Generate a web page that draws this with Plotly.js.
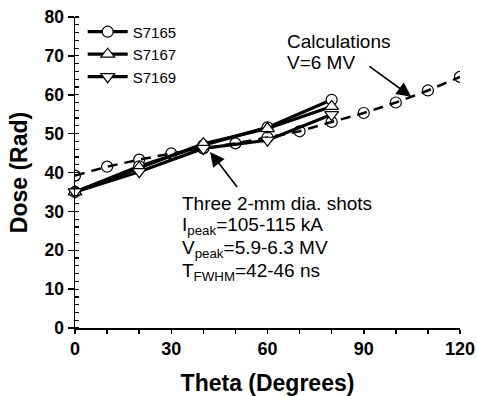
<!DOCTYPE html>
<html>
<head>
<meta charset="utf-8">
<script src="https://cdn.plot.ly/plotly-3.0.1.min.js"></script>
<style>html,body{margin:0;padding:0;background:#fff;}#chart{width:477px;height:396px;}</style>
</head>
<body>
<div id="chart"></div>
<script>
// Calculation (V = 6 MV)
const calcTheta = [0, 10, 20, 30, 40, 50, 60, 70, 80, 90, 100, 110, 120];
const calcDose  = [39.2, 41.5, 43.3, 44.9, 46.2, 47.5, 49.0, 50.6, 53.0, 55.3, 58.0, 61.1, 64.6];

// Measured shots
const shotTheta = [0, 20, 40, 60, 80];
const s7165 = [35.0, 41.6, 47.0, 51.6, 58.7];
const s7167 = [35.0, 41.3, 47.4, 51.3, 57.0];
const s7169 = [35.0, 40.2, 46.2, 48.3, 54.9];

const seriesNames = ['S7165', 'S7167', 'S7169'];
const xTitle = 'Theta (Degrees)';
const yTitle = 'Dose (Rad)';

const F = 'Arial, "Liberation Sans", Helvetica, sans-serif';

function shot(y, name, sym, size) {
  return {
    x: shotTheta, y: y, name: name, type: 'scatter', mode: 'lines+markers',
    line: {color: '#000', width: 3.2},
    marker: {symbol: sym, size: size, color: '#fff', line: {color: '#000', width: 1.2}},
    cliponaxis: false
  };
}

const data = [
  {
    x: calcTheta, y: calcDose, type: 'scatter', mode: 'lines+markers', showlegend: false,
    line: {color: '#000', width: 2.5, dash: '10px,7px'},
    marker: {symbol: 'circle-open', size: 11, color: '#000', line: {width: 1.2}},
    cliponaxis: true
  },
  shot(s7165, seriesNames[0], 'circle', 11),
  shot(s7167, seriesNames[1], 'triangle-up', 12),
  shot(s7169, seriesNames[2], 'triangle-down', 12)
];

const layout = {
  width: 477, height: 396,
  margin: {l: 75, r: 17, t: 17, b: 68},
  paper_bgcolor: '#fff', plot_bgcolor: '#fff',
  showlegend: true,
  legend: {
    x: 0.02, y: 1.005, xanchor: 'left', yanchor: 'top',
    bgcolor: 'rgba(0,0,0,0)', font: {family: F, size: 15, color: '#000'},
    itemwidth: 40, tracegroupgap: 0
  },
  xaxis: {
    range: [0, 120], dtick: 30, tick0: 0,
    ticks: 'outside', ticklen: 4, tickwidth: 1.5, tickcolor: '#000',
    minor: {dtick: 10, ticks: 'outside', ticklen: 4, tickwidth: 1.5, tickcolor: '#000'},
    showgrid: false, zeroline: false, showline: true, linecolor: '#000', linewidth: 1.5,
    tickfont: {family: F, size: 18, color: '#000', weight: 'bold'},
    title: {text: '<b>' + xTitle + '</b>', font: {family: F, size: 23, color: '#000'}, standoff: 18}
  },
  yaxis: {
    range: [0, 80], dtick: 10, tick0: 0,
    ticks: 'outside', ticklen: 6, tickwidth: 1.5, tickcolor: '#000',
    minor: {dtick: 2, ticks: 'inside', ticklen: 4, tickwidth: 1.2, tickcolor: '#000'},
    showgrid: false, zeroline: false, showline: true, linecolor: '#000', linewidth: 1.5,
    tickfont: {family: F, size: 17.5, color: '#000', weight: 'bold'},
    title: {text: '<b>' + yTitle + '</b>', font: {family: F, size: 23, color: '#000'}, standoff: 10}
  },
  xaxis2: {
    overlaying: 'x', side: 'top', range: [0, 120], dtick: 10, tick0: 0,
    ticks: 'inside', ticklen: 5, tickwidth: 1.5, tickcolor: '#000',
    showticklabels: false, showgrid: false, zeroline: false,
    showline: true, linecolor: '#000', linewidth: 1.5
  },
  yaxis2: {
    overlaying: 'y', side: 'right', range: [0, 80], dtick: 2.5, tick0: 0,
    ticks: 'inside', ticklen: 5, tickwidth: 1.5, tickcolor: '#000',
    showticklabels: false, showgrid: false, zeroline: false,
    showline: true, linecolor: '#000', linewidth: 1.5
  },
  annotations: [
    {x: 104.8, y: 59.5, ax: 91.3, ay: 67.6, axref: 'x', ayref: 'y', xref: 'x', yref: 'y',
     text: '', showarrow: true, arrowhead: 2, arrowsize: 1.8, arrowwidth: 1.6, arrowcolor: '#000'},
    {x: 42.1, y: 45.3, ax: 50.9, ay: 35.9, axref: 'x', ayref: 'y', xref: 'x', yref: 'y',
     text: '', showarrow: true, arrowhead: 2, arrowsize: 1.8, arrowwidth: 1.6, arrowcolor: '#000'},
    {x: 285, y: 42, text: 'Calculations', showarrow: false},
    {x: 285, y: 63, text: 'V=6 MV', showarrow: false},
    {x: 180, y: 203, text: 'Three 2-mm dia. shots', showarrow: false},
    {x: 180, y: 226, text: 'I<sub>peak</sub>=105-115 kA', showarrow: false},
    {x: 180, y: 249, text: 'V<sub>peak</sub>=5.9-6.3 MV', showarrow: false},
    {x: 180, y: 272, text: 'T<sub>FWHM</sub>=42-46 ns', showarrow: false}
  ]
};

// convert pixel-positioned text annotations to paper coords
const L = 75, T = 17, W = 477 - 75 - 17, H = 396 - 17 - 68;
layout.annotations.forEach(function (a, i) {
  if (i >= 2) {
    const px = a.x, py = a.y;
    a.xref = 'paper'; a.yref = 'paper';
    a.x = (px - L) / W; a.y = 1 - (py - T) / H;
    a.xanchor = 'left'; a.yanchor = 'middle';
    a.font = {family: F, size: 19, color: '#000'};
  }
});

Plotly.newPlot('chart', data, layout, {displayModeBar: false, staticPlot: true});
</script>
</body>
</html>
